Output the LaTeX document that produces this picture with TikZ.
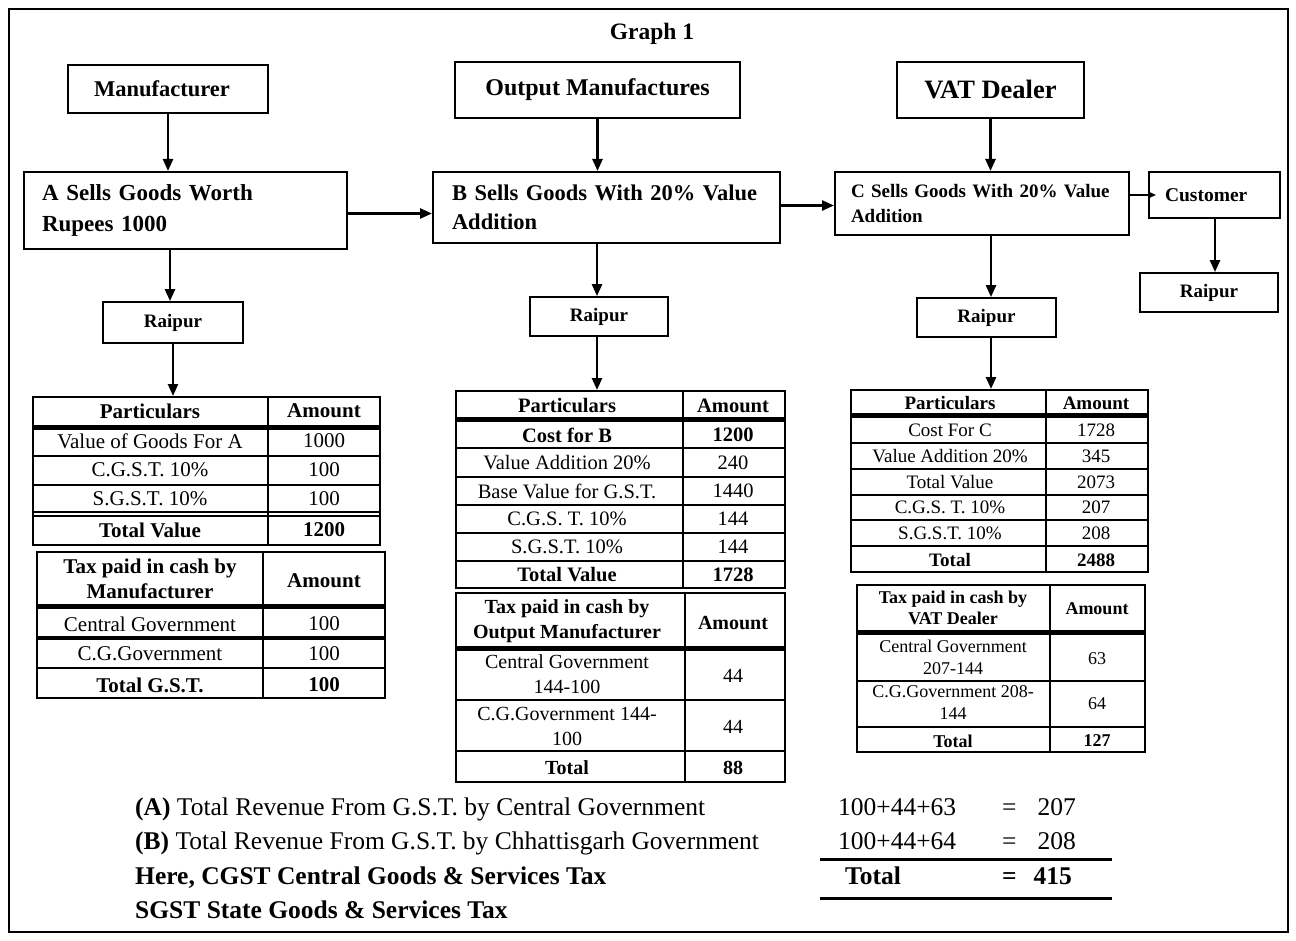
\documentclass[tikz,border=0pt]{standalone}
\usepackage{fontspec}
\setmainfont{Liberation Serif}
\usetikzlibrary{arrows.meta}

\newcommand{\fsz}[2]{\fontsize{#1}{#2}\selectfont}

\tikzset{
  headbox/.style={draw, line width=2pt, inner sep=0pt, font=\bfseries, align=center},
  sellbox/.style={draw, line width=2pt, inner ysep=0pt, font=\bfseries, align=left},
  placebox/.style={draw, line width=1.8pt, inner sep=0pt, font=\bfseries\fsz{19}{22}},
  flow/.style={-{Triangle[length=12pt,width=10pt]}, line width=2.5pt},
  tabframe/.style={draw, line width=2pt, inner sep=0pt},
  cell/.style={inner sep=0pt, align=center},
  sumtext/.style={anchor=base west, inner sep=0pt, font=\fsz{25.5}{28}},
}

\begin{document}
\begin{tikzpicture}[x=1pt, y=-1pt]
  \useasboundingbox (0,0) rectangle (1296,941);
  % outer frame
  \draw[line width=2pt] (9,9) rectangle (1288,932);

  \node[font=\bfseries\fsz{23.5}{26}] (title) at (652,34) {Graph 1};

  % top row boxes
  \node[headbox, minimum width=200, minimum height=48, font=\bfseries\fsz{22.5}{26}] (mfr) at (168,89) {Manufacturer\hspace{12pt}};
  \node[headbox, minimum width=285, minimum height=56, font=\bfseries\fsz{24}{26}] (omfr) at (597.5,90) {Output Manufactures};
  \node[headbox, minimum width=187, minimum height=56, font=\bfseries\fsz{26.5}{30}] (vat) at (990.5,90) {VAT Dealer};

  % selling boxes
  \node[sellbox, inner xsep=18pt, text width=287, minimum height=77, font=\bfseries\fsz{23}{31}] (abox) at (185.5,210.5)
    {A Sells Goods Worth\\Rupees 1000};
  \node[sellbox, inner xsep=19pt, text width=309, minimum height=71, font=\bfseries\fsz{22.5}{29}] (bbox) at (606.5,207.5)
    {B Sells Goods With 20\% Value\\Addition};
  \node[sellbox, inner xsep=16pt, text width=262, minimum height=63, font=\bfseries\fsz{19}{25}] (cbox) at (982,203.5)
    {C Sells Goods With 20\% Value\\Addition};
  \node[sellbox, inner xsep=16pt, text width=99, minimum height=46, font=\bfseries\fsz{19.5}{22}] (cust) at (1214.5,195)
    {Customer};

  % place boxes
  \node[placebox, minimum width=140, minimum height=41] (raipurA) at (173,322.5) {Raipur};
  \node[placebox, minimum width=138, minimum height=39] (raipurB) at (599,316.5) {Raipur};
  \node[placebox, minimum width=139, minimum height=39] (raipurC) at (986.5,317.5) {Raipur};
  \node[placebox, minimum width=138, minimum height=39] (raipurD) at (1209,292.5) {Raipur};

  % table frames
  \node[tabframe, minimum width=347, minimum height=148] (tabA) at (206.5,471) {};
  \node[tabframe, minimum width=348, minimum height=146] (tabAtax) at (211,625) {};
  \node[tabframe, minimum width=329, minimum height=197] (tabB) at (620.5,489.5) {};
  \node[tabframe, minimum width=329, minimum height=189] (tabBtax) at (620.5,687.5) {};
  \node[tabframe, minimum width=297, minimum height=182] (tabC) at (999.5,481) {};
  \node[tabframe, minimum width=288, minimum height=167] (tabCtax) at (1001,668.5) {};

  % arrows
  \draw[flow] (mfr.south) -- (mfr.south |- abox.north);
  \draw[flow] (omfr.south) -- (omfr.south |- bbox.north);
  \draw[flow] (vat.south) -- (vat.south |- cbox.north);
  \draw[flow] ([yshift=-3pt]abox.east) -- ([yshift=-3pt]abox.east -| bbox.west);
  \draw[flow] ([yshift=2pt]bbox.east) -- ([yshift=2pt]bbox.east -| cbox.west);
  \draw[-{Triangle[length=6pt,width=5pt]}, line width=1.5pt] ([xshift=-2pt]cbox.east |- cust.west) -- ([xshift=8pt]cust.west);
  \draw[flow] ([xshift=-3pt]raipurA.north |- abox.south) -- ([xshift=-3pt]raipurA.north);
  \draw[flow] ([xshift=-2pt]raipurB.north |- bbox.south) -- ([xshift=-2pt]raipurB.north);
  \draw[flow] ([xshift=4.5pt]raipurC.north |- cbox.south) -- ([xshift=4.5pt]raipurC.north);
  \draw[flow] ([xshift=6pt]raipurD.north |- cust.south) -- ([xshift=6pt]raipurD.north);
  \draw[flow] (raipurA.south) -- (raipurA.south |- tabA.north);
  \draw[flow] ([xshift=-2pt]raipurB.south) -- ([xshift=-2pt]raipurB.south |- tabB.north);
  \draw[flow] ([xshift=4.5pt]raipurC.south) -- ([xshift=4.5pt]raipurC.south |- tabC.north);

  % table A lines
  \draw[line width=2pt] (268,397) -- (268,545);
  \draw[line width=5pt] (33,427) -- (380,427);
  \foreach \y in {456,485,512,516}
    \draw[line width=2pt] (33,\y) -- (380,\y);
  \node[cell, font=\bfseries\fsz{21}{24}] (tAh1) at (150,411) {Particulars};
  \node[cell, font=\bfseries\fsz{21}{24}] (tAh2) at (324,411) {Amount};
  \foreach \lab/\val/\y [count=\i] in {Value of Goods For A/1000/441, C.G.S.T. 10\%/100/470, S.G.S.T. 10\%/100/499}
  {
    \node[cell, font=\fsz{21}{24}] (tAl\i) at (150,\y) {\lab};
    \node[cell, font=\fsz{21}{24}] (tAv\i) at (324,\y) {\val};
  }
  \node[cell, font=\bfseries\fsz{21}{24}] (tAtot) at (150,530) {Total Value};
  \node[cell, font=\bfseries\fsz{21}{24}] (tAtotv) at (324,530) {1200};

  % table A tax lines
  \draw[line width=2pt] (263,552) -- (263,698);
  \draw[line width=5pt] (37,606) -- (385,606);
  \draw[line width=4pt] (37,638) -- (385,638);
  \draw[line width=2pt] (37,668) -- (385,668);
  \node[cell, font=\bfseries\fsz{21}{25}] (tAth1) at (150,579) {Tax paid in cash by\\Manufacturer};
  \node[cell, font=\bfseries\fsz{21}{24}] (tAth2) at (324,581) {Amount};
  \node[cell, font=\fsz{21}{24}] (tAtl1) at (150,624) {Central Government};
  \node[cell, font=\fsz{21}{24}] (tAtv1) at (324,624) {100};
  \node[cell, font=\fsz{21}{24}] (tAtl2) at (150,654) {C.G.Government};
  \node[cell, font=\fsz{21}{24}] (tAtv2) at (324,654) {100};
  \node[cell, font=\bfseries\fsz{21}{24}] (tAtl3) at (150,685) {Total G.S.T.};
  \node[cell, font=\bfseries\fsz{21}{24}] (tAtv3) at (324,685) {100};

  % table B lines
  \draw[line width=2pt] (683,391) -- (683,588);
  \draw[line width=5pt] (456,419) -- (785,419);
  \foreach \y in {448,477,505,533,561}
    \draw[line width=2pt] (456,\y) -- (785,\y);
  \node[cell, font=\bfseries\fsz{20.5}{23}] (tBh1) at (567,406) {Particulars};
  \node[cell, font=\bfseries\fsz{20.5}{23}] (tBh2) at (733,406) {Amount};
  \node[cell, font=\bfseries\fsz{20.5}{23}] (tBl0) at (567,435) {Cost for B};
  \node[cell, font=\bfseries\fsz{20.5}{23}] (tBv0) at (733,435) {1200};
  \foreach \lab/\val/\y [count=\i] in {Value Addition 20\%/240/463, Base Value for G.S.T./1440/491, C.G.S. T. 10\%/144/519, S.G.S.T. 10\%/144/547}
  {
    \node[cell, font=\fsz{20.5}{23}] (tBl\i) at (567,\y) {\lab};
    \node[cell, font=\fsz{20.5}{23}] (tBv\i) at (733,\y) {\val};
  }
  \node[cell, font=\bfseries\fsz{20.5}{23}] (tBtot) at (567,575) {Total Value};
  \node[cell, font=\bfseries\fsz{20.5}{23}] (tBtotv) at (733,575) {1728};

  % table B tax lines
  \draw[line width=2pt] (685,593) -- (685,782);
  \draw[line width=5pt] (456,648) -- (785,648);
  \draw[line width=2pt] (456,700) -- (785,700);
  \draw[line width=2pt] (456,751) -- (785,751);
  \node[cell, font=\bfseries\fsz{20}{25}] (tBth1) at (567,621) {Tax paid in cash by\\Output Manufacturer};
  \node[cell, font=\bfseries\fsz{20}{24}] (tBth2) at (733,623) {Amount};
  \node[cell, font=\fsz{20}{25}] (tBtl1) at (567,674) {Central Government\\144-100};
  \node[cell, font=\fsz{20}{24}] (tBtv1) at (733,676) {44};
  \node[cell, font=\fsz{20}{25}] (tBtl2) at (567,726) {C.G.Government 144-\\100};
  \node[cell, font=\fsz{20}{24}] (tBtv2) at (733,727) {44};
  \node[cell, font=\bfseries\fsz{20}{24}] (tBtl3) at (567,768) {Total};
  \node[cell, font=\bfseries\fsz{20}{24}] (tBtv3) at (733,768) {88};

  % table C lines
  \draw[line width=2pt] (1046,390) -- (1046,572);
  \draw[line width=5pt] (851,415) -- (1148,415);
  \foreach \y in {443,469,495,520,546}
    \draw[line width=2pt] (851,\y) -- (1148,\y);
  \node[cell, font=\bfseries\fsz{19}{22}] (tCh1) at (950,403) {Particulars};
  \node[cell, font=\bfseries\fsz{19}{22}] (tCh2) at (1096,403) {Amount};
  \foreach \lab/\val/\y [count=\i] in {Cost For C/1728/430, Value Addition 20\%/345/456, Total Value/2073/482, C.G.S. T. 10\%/207/507, S.G.S.T. 10\%/208/533}
  {
    \node[cell, font=\fsz{19}{22}] (tCl\i) at (950,\y) {\lab};
    \node[cell, font=\fsz{19}{22}] (tCv\i) at (1096,\y) {\val};
  }
  \node[cell, font=\bfseries\fsz{19}{22}] (tCtot) at (950,560) {Total};
  \node[cell, font=\bfseries\fsz{19}{22}] (tCtotv) at (1096,560) {2488};

  % table C tax lines
  \draw[line width=2pt] (1050,585) -- (1050,752);
  \draw[line width=5pt] (857,632) -- (1145,632);
  \draw[line width=2pt] (857,681) -- (1145,681);
  \draw[line width=2pt] (857,727) -- (1145,727);
  \node[cell, font=\bfseries\fsz{18}{21}] (tCth1) at (953,608) {Tax paid in cash by\\VAT Dealer};
  \node[cell, font=\bfseries\fsz{18}{21}] (tCth2) at (1097,609) {Amount};
  \node[cell, font=\fsz{18}{22}] (tCtl1) at (953,657) {Central Government\\207-144};
  \node[cell, font=\fsz{18}{21}] (tCtv1) at (1097,659) {63};
  \node[cell, font=\fsz{18}{22}] (tCtl2) at (953,703) {C.G.Government 208-\\144};
  \node[cell, font=\fsz{18}{21}] (tCtv2) at (1097,704) {64};
  \node[cell, font=\bfseries\fsz{18}{21}] (tCtl3) at (953,741) {Total};
  \node[cell, font=\bfseries\fsz{18}{21}] (tCtv3) at (1097,741) {127};

  % revenue summary
  \node[sumtext] (revA) at (135,815) {\textbf{(A)} Total Revenue From G.S.T. by Central Government};
  \node[sumtext] (revB) at (135,849) {\textbf{(B)} Total Revenue From G.S.T. by Chhattisgarh Government};
  \node[sumtext, font=\bfseries\fsz{25.5}{28}] (noteA) at (135,884) {Here, CGST Central Goods \& Services Tax};
  \node[sumtext, font=\bfseries\fsz{25.5}{28}] (noteB) at (135,918) {SGST State Goods \& Services Tax};
  \node[sumtext] (sumA) at (838,815) {100+44+63};
  \node[sumtext] (resA) at (1002,815) {=\hspace{21pt}207};
  \node[sumtext] (sumB) at (838,849) {100+44+64};
  \node[sumtext] (resB) at (1002,849) {=\hspace{21pt}208};
  \node[sumtext, font=\bfseries\fsz{25.5}{28}] (sumT) at (845,884) {Total};
  \node[sumtext, font=\bfseries\fsz{25.5}{28}] (resT) at (1002,884) {=\hspace{17pt}415};
  \draw[line width=3pt] (820,859) -- (1112,859);
  \draw[line width=3pt] (820,898) -- (1112,898);
\end{tikzpicture}
\end{document}
